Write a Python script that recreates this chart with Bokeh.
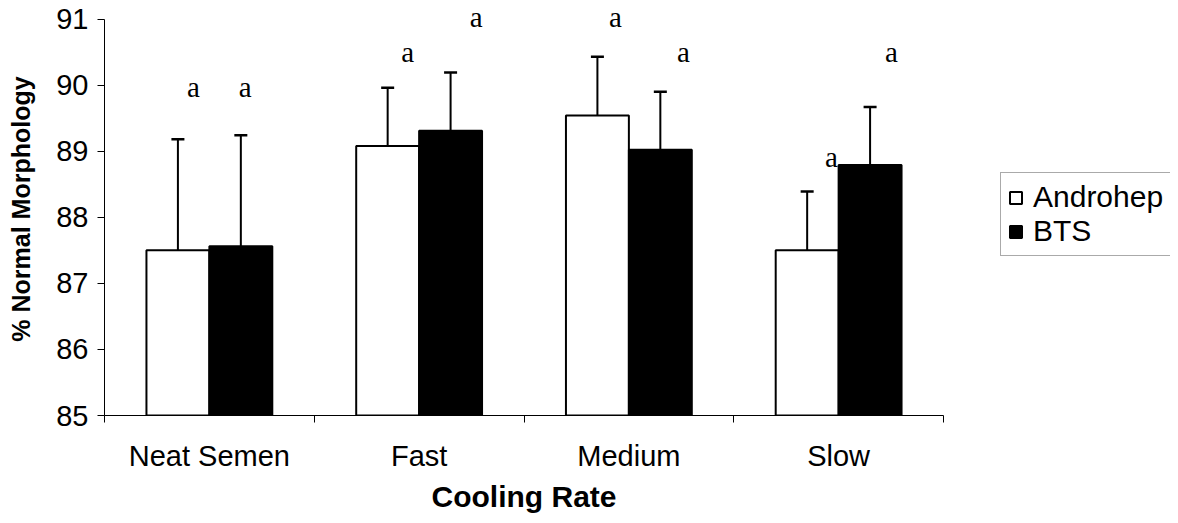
from bokeh.plotting import figure
from bokeh.models import (ColumnDataSource, Range1d, FixedTicker, Whisker, TeeHead,
                          LabelSet, Legend, LegendItem, Title)
from bokeh.transform import dodge
from bokeh.embed import file_html
from bokeh.resources import INLINE

categories = ["Neat Semen", "Fast", "Medium", "Slow"]
series_names = ["Androhep", "BTS"]
androhep = [87.50, 89.08, 89.54, 87.50]
androhep_err = [1.68, 0.88, 0.89, 0.89]
bts = [87.56, 89.31, 89.02, 88.79]
bts_err = [1.68, 0.88, 0.88, 0.88]
androhep_letters = ["a", "a", "a", "a"]
bts_letters = ["a", "a", "a", "a"]
y_ticks = [85, 86, 87, 88, 89, 90, 91]
x_title = "Cooling Rate"
y_title = "% Normal Morphology"

# letter placement (annotation layout, not data)
andro_letter_y = [89.82, 90.35, 90.88, 88.76]
bts_letter_y = [89.82, 90.88, 90.35, 90.35]
andro_letter_dx = [-0.076, -0.055, -0.064, -0.034]
bts_letter_dx = [0.171, 0.272, 0.260, 0.252]

ncat = len(categories)
cx = [i + 0.5 for i in range(ncat)]
src = ColumnDataSource(dict(
    x=cx,
    andro=androhep,
    andro_up=[v + e for v, e in zip(androhep, androhep_err)],
    bts=bts,
    bts_up=[v + e for v, e in zip(bts, bts_err)],
))
lab_src = ColumnDataSource(dict(
    x=[c + d for c, d in zip(cx, andro_letter_dx)] + [c + d for c, d in zip(cx, bts_letter_dx)],
    y=andro_letter_y + bts_letter_y,
    t=androhep_letters + bts_letters,
))

W, H = 1170, 515
LEFT = 104
AXIS_PX = 839          # pixel length of the category axis
frame_w = W - LEFT
x_end = ncat * frame_w / AXIS_PX

p = figure(width=W, height=H, output_backend="svg", toolbar_location=None,
           x_range=Range1d(0, x_end), y_range=Range1d(85, 91.25),
           min_border_left=LEFT, min_border_right=0, min_border_top=2,
           min_border_bottom=97)
p.outline_line_color = None
p.xgrid.visible = False
p.ygrid.visible = False
p.background_fill_color = "white"
p.border_fill_color = "white"

bw = 0.30
r1 = p.vbar(x=dodge("x", -bw / 2, range=p.x_range), top="andro", bottom=85, width=bw,
            source=src, fill_color="white", line_color="black", line_width=2)
r2 = p.vbar(x=dodge("x", bw / 2, range=p.x_range), top="bts", bottom=85, width=bw,
            source=src, fill_color="black", line_color="black", line_width=2)

for off, lo, up in [(-bw / 2, "andro", "andro_up"), (bw / 2, "bts", "bts_up")]:
    w = Whisker(base=dodge("x", off, range=p.x_range), lower=lo, upper=up, source=src,
                line_color="black", line_width=2, lower_head=None,
                upper_head=TeeHead(size=13, line_color="black", line_width=2.5),
                level="overlay")
    p.add_layout(w)

labels = LabelSet(x="x", y="y", text="t", source=lab_src, text_align="center",
                  text_baseline="alphabetic", text_font="Liberation Serif",
                  text_font_size="29px", text_color="black")
p.add_layout(labels)

# axes
xa = p.xaxis[0]
xa.bounds = (0, ncat)
xa.ticker = FixedTicker(ticks=cx, minor_ticks=list(range(ncat + 1)))
xa.major_label_overrides = {c: n for c, n in zip(cx, categories)}
xa.major_tick_line_color = None
xa.major_tick_out = 0
xa.major_tick_in = 0
xa.minor_tick_out = 7
xa.minor_tick_in = 0
xa.minor_tick_line_color = "black"
xa.axis_line_color = "black"
xa.major_label_text_font = "Liberation Sans"
xa.major_label_text_font_size = "29px"
xa.major_label_text_color = "black"
xa.major_label_standoff = 17

xt = Title(text=x_title, align="left", offset=327, standoff=6,
           text_font="Liberation Sans", text_font_style="bold",
           text_font_size="30px", text_color="black")
p.add_layout(xt, "below")

ya = p.yaxis[0]
ya.bounds = (85, 91)
ya.ticker = FixedTicker(ticks=y_ticks)
ya.minor_tick_line_color = None
ya.major_tick_out = 7
ya.major_tick_in = 0
ya.major_tick_line_color = "black"
ya.axis_line_color = "black"
ya.major_label_text_font = "Liberation Sans"
ya.major_label_text_font_size = "29px"
ya.major_label_text_color = "black"
ya.major_label_standoff = 9
ya.axis_label = y_title
ya.axis_label_text_font = "Liberation Sans"
ya.axis_label_text_font_style = "bold"
ya.axis_label_text_font_size = "25px"
ya.axis_label_text_color = "black"
ya.axis_label_standoff = 18

legend = Legend(items=[LegendItem(label=series_names[0], renderers=[r1]),
                       LegendItem(label=series_names[1], renderers=[r2])],
                location=(896, 159), orientation="vertical",
                glyph_width=15, glyph_height=15, label_standoff=10,
                padding=7, spacing=0, margin=0,
                label_text_font="Liberation Sans", label_text_font_size="30px",
                label_text_color="black",
                border_line_color="#555555", border_line_width=1,
                background_fill_color="white", background_fill_alpha=1)
p.add_layout(legend, "center")

open("out.html", "w").write(file_html(p, INLINE))
